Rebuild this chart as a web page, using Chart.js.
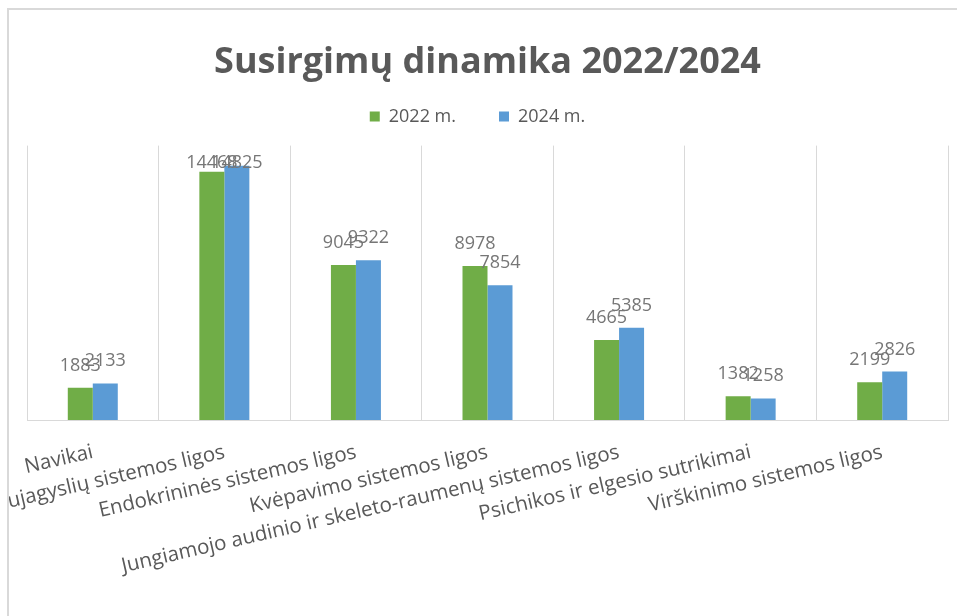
<!DOCTYPE html>
<html>
<head>
<meta charset="utf-8">
<title>Susirgimų dinamika 2022/2024</title>
<script src="https://cdn.jsdelivr.net/npm/chart.js@4.4.1/dist/chart.umd.min.js"></script>
<style>
  html, body { margin: 0; padding: 0; background: #fff; }
  body { width: 957px; height: 616px; overflow: hidden; position: relative; }
  .frame {
    position: absolute; left: 7px; top: 8px;
    width: 948px; height: 606px;
    border-left: 2px solid #d9d9d9; border-top: 2px solid #d9d9d9;
  }
  .frame canvas { display: block; }
</style>
</head>
<body>
<div class="frame"><canvas id="chart" width="948" height="606"></canvas></div>
<script>
const categories = [
  'Navikai',
  'Širdies ir kraujagyslių sistemos ligos',
  'Endokrininės sistemos ligos',
  'Kvėpavimo sistemos ligos',
  'Jungiamojo audinio ir skeleto-raumenų sistemos ligos',
  'Psichikos ir elgesio sutrikimai',
  'Virškinimo sistemos ligos'
];
const values2022 = [1883, 14468, 9045, 8978, 4665, 1382, 2199];
const values2024 = [2133, 14825, 9322, 7854, 5385, 1258, 2826];
const seriesNames = ['2022 m.', '2024 m.'];

const FONT = '"Open Sans", "Noto Sans", sans-serif';

// value labels above each bar (kept inside the plot like Excel does)
const barValueLabels = {
  id: 'barValueLabels',
  afterDatasetsDraw(chart) {
    const { ctx, chartArea } = chart;
    ctx.save();
    ctx.font = '18px ' + FONT;
    ctx.fillStyle = '#767676';
    ctx.textAlign = 'center';
    ctx.textBaseline = 'alphabetic';
    chart.data.datasets.forEach((ds, i) => {
      chart.getDatasetMeta(i).data.forEach((bar, j) => {
        const y = Math.max(bar.y - 17, chartArea.top + 22);
        ctx.fillText(String(ds.data[j]), bar.x, y);
      });
    });
    ctx.restore();
  }
};

// extra room between legend and plot area, and nudge legend a bit left
const legendGap = {
  id: 'legendGap',
  beforeLayout(chart) {
    const lg = chart.legend;
    if (!lg || lg._gapPatched) return;
    const fit = lg.fit;
    lg.fit = function () { fit.call(this); this.height += 10; };
    lg._gapPatched = true;
  },
  afterLayout(chart) {
    const lg = chart.legend;
    if (!lg) return;
    lg.left -= 10;
    lg.right -= 10;
  }
};

new Chart(document.getElementById('chart'), {
  type: 'bar',
  data: {
    labels: categories,
    datasets: [
      { label: seriesNames[0], data: values2022, backgroundColor: '#70ad47', borderWidth: 0 },
      { label: seriesNames[1], data: values2024, backgroundColor: '#5b9bd5', borderWidth: 0 }
    ]
  },
  options: {
    responsive: false,
    animation: false,
    layout: { padding: { left: 18, right: 9, top: 0, bottom: 0 } },
    datasets: { bar: { categoryPercentage: 0.38, barPercentage: 1 } },
    plugins: {
      title: {
        display: true,
        text: 'Susirgimų dinamika 2022/2024',
        color: '#595959',
        font: { family: FONT, size: 36, weight: 'bold', lineHeight: 0.1 },
        padding: { top: 51, bottom: 0 }
      },
      legend: {
        position: 'top',
        labels: {
          color: '#595959',
          font: { family: FONT, size: 18 },
          boxWidth: 10,
          boxHeight: 10,
          padding: 43
        }
      },
      tooltip: { enabled: false }
    },
    scales: {
      x: {
        grid: { color: '#d9d9d9', lineWidth: 1, drawTicks: false, offset: true },
        border: { color: '#d9d9d9', width: 1 },
        ticks: {
          color: '#595959',
          font: { family: FONT, size: 20.5 },
          autoSkip: false,
          minRotation: 13,
          maxRotation: 13,
          padding: 20
        },
        afterFit(scale) {
          scale.height = 196;
          scale.paddingLeft = 0;
          scale.paddingRight = 0;
        }
      },
      y: {
        display: false,
        min: 0,
        max: 16000
      }
    }
  },
  plugins: [barValueLabels, legendGap]
});
</script>
</body>
</html>
